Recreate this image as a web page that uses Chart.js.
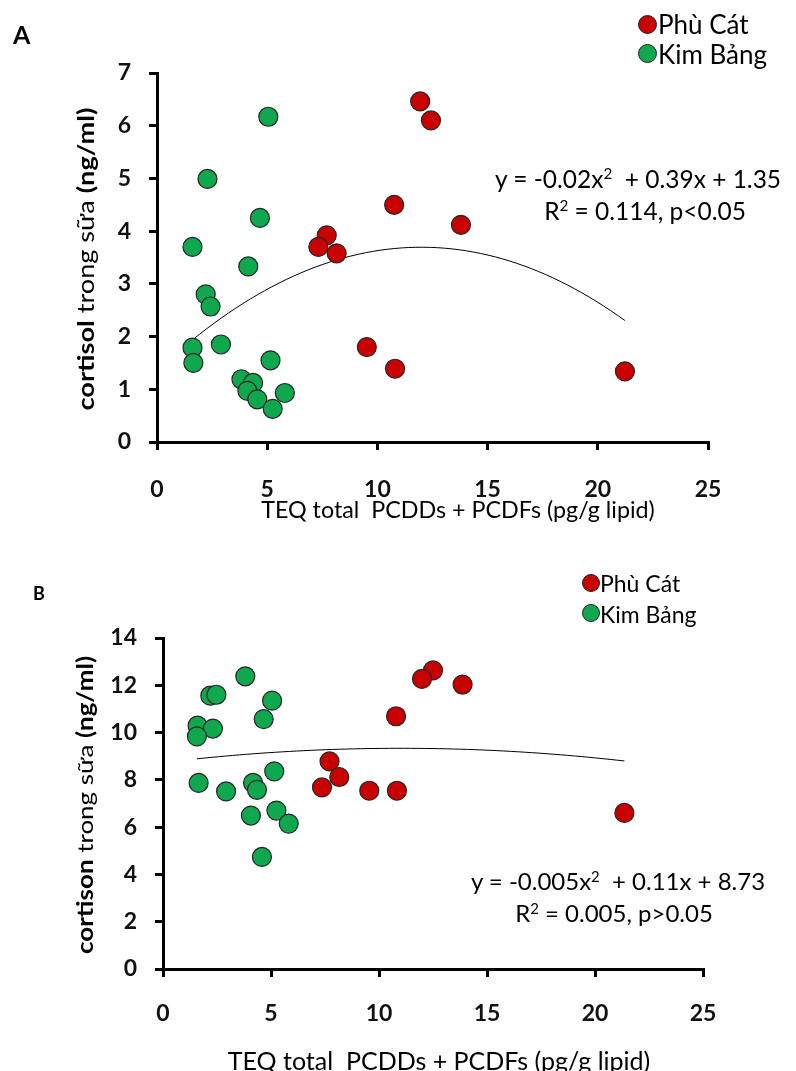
<!DOCTYPE html>
<html>
<head>
<meta charset="utf-8">
<script src="https://cdn.jsdelivr.net/npm/chart.js@4"></script>
<style>
  body{margin:0;background:#fff;font-family:Lato,'Open Sans',sans-serif;color:#000;}
  #page{position:relative;width:796px;height:1071px;overflow:hidden;background:#fff;}
  canvas{position:absolute;left:0;}
  .txt{position:absolute;white-space:nowrap;line-height:1;transform:translateY(-50%);}
  .ctr{transform:translate(-50%,-50%);}
  .rot{transform:translate(-50%,-50%) rotate(-90deg) scaleX(1.18);}
  .dot{position:absolute;border-radius:50%;border:1px solid #222;box-sizing:border-box;}
  sup{font-size:0.62em;vertical-align:0.55em;line-height:0;}
  b{font-weight:bold;}
</style>
</head>
<body>
<div id="page">
  <canvas id="chartA" width="796" height="540" style="top:0"></canvas>
  <canvas id="chartB" width="796" height="531" style="top:540px"></canvas>

  <div class="txt" style="left:13px;top:34px;font-size:25px;font-weight:bold">A</div>
  <div class="txt" style="left:33px;top:593px;font-size:18px;font-weight:bold">B</div>

  <!-- legend, panel A -->
  <div class="dot" style="left:638px;top:15px;width:19px;height:19px;background:#c80000"></div>
  <div class="txt" style="left:658px;top:24px;font-size:26px">Phù Cát</div>
  <div class="dot" style="left:638px;top:44px;width:19px;height:19px;background:#10a84e"></div>
  <div class="txt" style="left:658px;top:54px;font-size:26px">Kim Bảng</div>

  <!-- legend, panel B -->
  <div class="dot" style="left:582px;top:574px;width:18px;height:18px;background:#c80000"></div>
  <div class="txt" style="left:600px;top:583px;font-size:23px">Phù Cát</div>
  <div class="dot" style="left:582px;top:604px;width:18px;height:18px;background:#10a84e"></div>
  <div class="txt" style="left:600px;top:614px;font-size:23px">Kim Bảng</div>

  <!-- fitted equations -->
  <div class="txt ctr" style="left:638px;top:179px;font-size:24.5px">y = -0.02x<sup>2</sup>&nbsp; + 0.39x + 1.35</div>
  <div class="txt ctr" style="left:645px;top:211px;font-size:24.5px">R<sup>2</sup> = 0.114, p&lt;0.05</div>
  <div class="txt ctr" style="left:618px;top:881px;font-size:24px">y = -0.005x<sup>2</sup>&nbsp; + 0.11x + 8.73</div>
  <div class="txt ctr" style="left:614px;top:913px;font-size:24px">R<sup>2</sup> = 0.005, p&gt;0.05</div>

  <!-- axis titles -->
  <div class="txt rot" style="left:85px;top:259px;font-size:23px"><b>cortisol</b> trong sữa <b>(ng/ml)</b></div>
  <div class="txt rot" style="left:85px;top:805px;font-size:22px"><b>cortison</b> trong sữa <b>(ng/ml)</b></div>
  <div class="txt ctr" style="left:458px;top:510px;font-size:23.3px">TEQ total&nbsp; PCDDs + PCDFs (pg/g lipid)</div>
  <div class="txt ctr" style="left:439px;top:1060px;font-size:25px">TEQ total&nbsp; PCDDs + PCDFs (pg/g lipid)</div>
</div>

<script>
// Panel A: cortisol vs TEQ
let cortisolPhuCatX = [11.94, 12.43, 10.76, 13.79, 7.70, 7.32, 8.15, 9.52, 10.80, 21.23];
let cortisolPhuCatY = [6.46, 6.10, 4.50, 4.12, 3.92, 3.70, 3.58, 1.80, 1.39, 1.34];
let cortisolKimBangX = [5.05, 2.29, 4.67, 1.61, 4.14, 2.21, 2.43, 2.90, 1.61, 1.65, 5.15, 3.83, 4.36, 4.10, 4.55, 5.80, 5.25];
let cortisolKimBangY = [6.17, 4.99, 4.25, 3.70, 3.33, 2.80, 2.57, 1.85, 1.79, 1.50, 1.55, 1.19, 1.12, 0.97, 0.81, 0.93, 0.63];
// quadratic trend a*x^2 + b*x + c
let cortisolFit = [-0.0163, 0.391, 1.35];

// Panel B: cortison vs TEQ
let cortisonPhuCatX = [12.50, 11.99, 13.87, 10.79, 7.71, 8.16, 7.36, 9.55, 10.83, 21.36];
let cortisonPhuCatY = [12.63, 12.27, 12.03, 10.69, 8.78, 8.12, 7.68, 7.54, 7.54, 6.60];
let cortisonKimBangX = [3.81, 2.19, 2.47, 5.05, 4.66, 1.60, 2.31, 1.57, 5.15, 1.65, 4.17, 4.35, 2.92, 5.25, 4.07, 5.82, 4.58];
let cortisonKimBangY = [12.38, 11.56, 11.60, 11.35, 10.57, 10.29, 10.17, 9.84, 8.36, 7.87, 7.87, 7.58, 7.51, 6.70, 6.49, 6.15, 4.74];
let cortisonFit = [-0.005, 0.11, 8.73];

let xTicks = [0, 5, 10, 15, 20, 25];

function points(xs, ys) {
    return xs.map((x, i) => ({x: x, y: ys[i]}));
}

function trend(coef, xs) {
    let lo = Math.min.apply(null, xs);
    let hi = Math.max.apply(null, xs);
    let out = [];
    for (let i = 0; i <= 60; i++) {
        let x = lo + (hi - lo) * i / 60;
        out.push({x: x, y: coef[0] * x * x + coef[1] * x + coef[2]});
    }
    return out;
}

function scatterSet(data, fill) {
    return {
        data: data,
        backgroundColor: fill,
        borderColor: '#262626',
        borderWidth: 1.2,
        pointRadius: 9.5,
        pointHoverRadius: 9.5,
        order: 1
    };
}

function buildChart(canvas, phX, phY, kbX, kbY, fit, yMax, yStep, box) {
    let allX = phX.concat(kbX);
    return new Chart(canvas, {
        type: 'scatter',
        data: {
            datasets: [
                {
                    type: 'line',
                    data: trend(fit, allX),
                    borderColor: '#000',
                    borderWidth: 1,
                    pointRadius: 0,
                    fill: false,
                    order: 3
                },
                scatterSet(points(kbX, kbY), '#10a84e'),
                scatterSet(points(phX, phY), '#c80000')
            ]
        },
        options: {
            responsive: false,
            animation: false,
            events: [],
            layout: {padding: {left: 0, top: box.top, right: box.right, bottom: 0}},
            plugins: {legend: {display: false}, tooltip: {enabled: false}},
            scales: {
                x: {
                    type: 'linear',
                    min: 0, max: 25,
                    afterBuildTicks: s => { s.ticks = xTicks.map(v => ({value: v})); },
                    afterFit: s => { s.height = box.xh; },
                    grid: {drawOnChartArea: false, color: '#000', lineWidth: 3, tickLength: 8},
                    border: {color: '#000', width: 3},
                    ticks: {color: '#111', padding: box.xpad, font: {family: 'Lato', size: 23, weight: 'bold'}}
                },
                y: {
                    min: 0, max: yMax,
                    afterFit: s => { s.width = box.left; },
                    grid: {drawOnChartArea: false, color: '#000', lineWidth: 3, tickLength: 8},
                    border: {color: '#000', width: 3},
                    ticks: {stepSize: yStep, color: '#111', padding: 18, font: {family: 'Lato', size: 23, weight: 'bold'}}
                }
            }
        }
    });
}

buildChart(document.getElementById('chartA'),
    cortisolPhuCatX, cortisolPhuCatY, cortisolKimBangX, cortisolKimBangY, cortisolFit, 7, 1,
    {top: 73, right: 88, left: 157, xh: 98, xpad: 26});

buildChart(document.getElementById('chartB'),
    cortisonPhuCatX, cortisonPhuCatY, cortisonKimBangX, cortisonKimBangY, cortisonFit, 14, 2,
    {top: 98, right: 93, left: 163, xh: 102, xpad: 23});
</script>
</body>
</html>
